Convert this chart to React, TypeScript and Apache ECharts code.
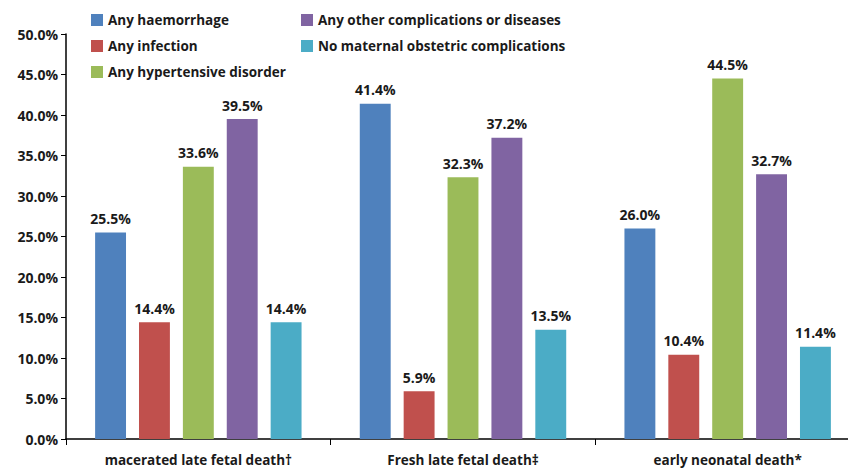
import React, { useEffect, useRef } from "react";
import * as echarts from "echarts";

const categories = ["macerated late fetal death†", "Fresh late fetal death‡", "early neonatal death*"];
const seriesNames = [
  "Any haemorrhage",
  "Any infection",
  "Any hypertensive disorder",
  "Any other complications or diseases",
  "No maternal obstetric complications",
];
const haemorrhage = [25.5, 41.4, 26.0];
const infection = [14.4, 5.9, 10.4];
const hypertensive = [33.6, 32.3, 44.5];
const otherComplications = [39.5, 37.2, 32.7];
const noComplications = [14.4, 13.5, 11.4];
const colors = ["#4F81BD", "#C0504D", "#9BBB59", "#8064A2", "#4BACC6"];

const FONT = "'Open Sans', 'Liberation Sans', sans-serif";

export default function App() {
  const ref = useRef<HTMLDivElement>(null);
  useEffect(() => {
    if (!ref.current) return;
    const chart = echarts.init(ref.current, undefined, { renderer: "svg" });
    const allData = [haemorrhage, infection, hypertensive, otherComplications, noComplications];
    const textStyle = { fontFamily: FONT, fontWeight: "bold" as const, fontSize: 14, color: "#1a1a1a" };
    const legendCommon = {
      orient: "vertical",
      top: 8,
      itemWidth: 12,
      itemHeight: 12,
      itemGap: 12,
      icon: "rect",
      textStyle: { ...textStyle, fontSize: 13.5 },
    };
    chart.setOption({
      animation: false,
      color: colors,
      legend: [
        { ...legendCommon, data: seriesNames.slice(0, 3), left: 86 },
        { ...legendCommon, data: seriesNames.slice(3), left: 296 },
      ],
      grid: { left: 66, top: 34, bottom: 29, right: 0, containLabel: false },
      xAxis: {
        type: "category",
        data: categories,
        axisLine: { lineStyle: { color: "#000", width: 1.5 } },
        axisTick: { show: true, length: 6, lineStyle: { color: "#000" } },
        axisLabel: { ...textStyle, fontSize: 13.5, margin: 14 },
      },
      yAxis: {
        type: "value",
        min: 0,
        max: 50,
        interval: 5,
        splitLine: { show: false },
        axisLine: { show: true, lineStyle: { color: "#000", width: 1.5 } },
        axisTick: { show: true, length: 5, lineStyle: { color: "#000" } },
        axisLabel: { ...textStyle, margin: 8, formatter: (v: number) => v.toFixed(1) + "%" },
      },
      series: seriesNames.map((name, i) => ({
        name,
        type: "bar",
        data: allData[i],
        barGap: "42%",
        barCategoryGap: "22%",
        itemStyle: { color: colors[i] },
        label: {
          show: true,
          position: "top",
          distance: 7,
          ...textStyle,
          formatter: (p: any) => p.value.toFixed(1) + "%",
        },
      })),
    });
    return () => chart.dispose();
  }, []);
  return (
    <div style={{ position: "absolute", left: 0, top: 0, width: 848, height: 468, overflow: "hidden" }}>
      <div ref={ref} style={{ width: 860, height: 468 }} />
    </div>
  );
}
